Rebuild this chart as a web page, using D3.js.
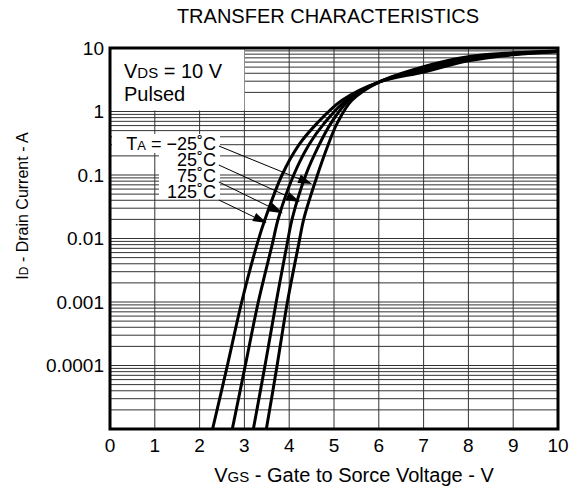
<!DOCTYPE html>
<html>
<head>
<meta charset="utf-8">
<script src="https://cdn.jsdelivr.net/npm/d3@7"></script>
<style>
  html, body { margin: 0; padding: 0; background: #fff; }
  svg { display: block; font-family: 'Liberation Sans', Arial, sans-serif; }
</style>
</head>
<body>
<div id="chart"></div>
<script>
/* Transfer characteristics: ID vs VGS at four ambient temperatures.
   Log y axis (1e-5 .. 10 A), linear x axis (0 .. 10 V).            */

var vgsTicks = [0, 1, 2, 3, 4, 5, 6, 7, 8, 9, 10];
var idTicks = [10, 1, 0.1, 0.01, 0.001, 0.0001];
var idTickLabels = ['10', '1', '0.1', '0.01', '0.001', '0.0001'];

/* [VGS, ID] */
var curveM25 = [[3.49, 1e-5], [3.73, 1e-4], [3.96, 1e-3], [4.21, 0.008], [4.33, 0.021],
  [4.63, 0.1], [4.87, 0.3], [5.07, 0.65], [5.40, 1.5], [6.0, 2.9], [7, 5.1], [8, 7.3], [9, 8.4], [10, 9.0]];
var curve25 = [[3.20, 1e-5], [3.46, 1e-4], [3.71, 1e-3], [3.95, 0.008], [4.07, 0.021],
  [4.37, 0.1], [4.67, 0.3], [4.93, 0.65], [5.33, 1.5], [6.0, 2.9], [7, 4.8], [8, 7.0], [9, 8.2], [10, 8.9]];
var curve75 = [[2.73, 1e-5], [3.02, 1e-4], [3.31, 1e-3], [3.62, 0.008], [3.76, 0.021],
  [4.10, 0.1], [4.44, 0.3], [4.78, 0.65], [5.27, 1.5], [6.0, 2.9], [7, 4.5], [8, 6.6], [9, 8.0], [10, 8.8]];
var curve125 = [[2.29, 1e-5], [2.62, 1e-4], [2.94, 1e-3], [3.28, 0.008], [3.47, 0.021],
  [3.84, 0.1], [4.22, 0.3], [4.62, 0.65], [5.18, 1.5], [6.0, 2.9], [7, 4.2], [8, 6.3], [9, 7.8], [10, 8.7]];

var tempLabels = ['\u221225\u02DAC', '25\u02DAC', '75\u02DAC', '125\u02DAC'];
/* leader arrows: tail near label, tip near curve, in [VGS, ID] */
var arrowTails = [[2.43, 0.286], [2.43, 0.1435], [2.43, 0.0776], [2.43, 0.0404]];
var arrowTips = [[4.51, 0.072], [4.24, 0.0376], [3.86, 0.025], [3.50, 0.0175]];

(function () {
  'use strict';
  var W = 578, H = 488;
  var left = 110, right = 558, top = 48, bottom = 429;

  var svg = d3.select('#chart').append('svg').attr('width', W).attr('height', H);

  var x = d3.scaleLinear().domain([0, 10]).range([left, right]);
  var y = d3.scaleLog().domain([1e-5, 10]).range([bottom, top]);

  /* grid: every log minor line, every volt */
  var minor = [];
  for (var e = -5; e < 1; e++) {
    for (var m = 1; m < 10; m++) { minor.push(m * Math.pow(10, e)); }
  }
  var grid = svg.append('g').attr('stroke', '#333').attr('stroke-width', 1);
  grid.selectAll('line.h').data(minor).enter().append('line')
    .attr('class', 'h')
    .attr('x1', left).attr('x2', right)
    .attr('y1', function (d) { return y(d); }).attr('y2', function (d) { return y(d); });
  grid.selectAll('line.v').data(vgsTicks.slice(1, -1)).enter().append('line')
    .attr('class', 'v')
    .attr('y1', top).attr('y2', bottom)
    .attr('x1', function (d) { return x(d); }).attr('x2', function (d) { return x(d); });

  /* blank corner for the test conditions */
  svg.append('rect')
    .attr('x', x(0)).attr('y', y(10))
    .attr('width', x(3) - x(0)).attr('height', y(1) - y(10) - 1)
    .attr('fill', '#fff');

  /* white patch behind the temperature labels */
  svg.append('rect').attr('x', 112).attr('y', 134).attr('width', 108).attr('height', 19).attr('fill', '#fff');
  svg.append('rect').attr('x', 159).attr('y', 153).attr('width', 61).attr('height', 46).attr('fill', '#fff');

  /* curves */
  var line = d3.line()
    .x(function (d) { return x(d[0]); })
    .y(function (d) { return y(d[1]); })
    .curve(d3.curveCatmullRom.alpha(0.5));
  [curveM25, curve25, curve75, curve125].forEach(function (c) {
    svg.append('path').datum(c)
      .attr('d', line)
      .attr('fill', 'none').attr('stroke', '#000').attr('stroke-width', 3)
      .attr('stroke-linejoin', 'round');
  });

  /* frame */
  svg.append('rect')
    .attr('x', left).attr('y', top)
    .attr('width', right - left).attr('height', bottom - top)
    .attr('fill', 'none').attr('stroke', '#000').attr('stroke-width', 3);

  /* tick labels */
  svg.selectAll('text.xt').data(vgsTicks).enter().append('text')
    .attr('class', 'xt')
    .attr('x', function (d) { return x(d); }).attr('y', 452)
    .attr('text-anchor', 'middle').style('font-size', '19px')
    .text(function (d) { return d; });
  svg.selectAll('text.yt').data(idTicks).enter().append('text')
    .attr('class', 'yt')
    .attr('x', 104).attr('y', function (d) { return y(d); }).attr('dy', '0.36em')
    .attr('text-anchor', 'end').style('font-size', '19px')
    .text(function (d, i) { return idTickLabels[i]; });

  /* title + axis titles (small-caps style subscripts) */
  svg.append('text')
    .attr('x', 328).attr('y', 23).attr('text-anchor', 'middle')
    .style('font-size', '20px').text('TRANSFER CHARACTERISTICS');

  var xl = svg.append('text').attr('x', 354).attr('y', 482).attr('text-anchor', 'middle')
    .style('font-size', '20px');
  xl.append('tspan').text('V');
  xl.append('tspan').style('font-size', '15px').text('GS');
  xl.append('tspan').text(' - Gate to Sorce Voltage - V');

  var yl = svg.append('text')
    .attr('transform', 'translate(28,206) rotate(-90)')
    .attr('text-anchor', 'middle').style('font-size', '16px');
  yl.append('tspan').text('I');
  yl.append('tspan').style('font-size', '12px').text('D');
  yl.append('tspan').text(' - Drain Current - A');

  /* test conditions */
  var c1 = svg.append('text').attr('x', 124).attr('y', 78).style('font-size', '20px');
  c1.append('tspan').text('V');
  c1.append('tspan').style('font-size', '15px').text('DS');
  c1.append('tspan').text(' = 10 V');
  svg.append('text').attr('x', 124).attr('y', 101).style('font-size', '20px').text('Pulsed');

  /* temperature labels */
  var lblY = [150, 166, 182, 198];
  tempLabels.forEach(function (t, i) {
    var tx = svg.append('text').attr('x', 216).attr('y', lblY[i])
      .attr('text-anchor', 'end').style('font-size', '18px');
    if (i === 0) {
      tx.append('tspan').text('T');
      tx.append('tspan').style('font-size', '13px').text('A');
      tx.append('tspan').text(' = ' + t);
    } else {
      tx.text(t);
    }
  });

  /* leader arrows */
  arrowTails.forEach(function (a, i) {
    var x1 = x(a[0]), y1 = y(a[1]);
    var x2 = x(arrowTips[i][0]), y2 = y(arrowTips[i][1]);
    var ang = Math.atan2(y2 - y1, x2 - x1);
    var len = 14, hw = 4.5;
    var bx = x2 - len * Math.cos(ang), by = y2 - len * Math.sin(ang);
    svg.append('line')
      .attr('x1', x1).attr('y1', y1).attr('x2', bx).attr('y2', by)
      .attr('stroke', '#000').attr('stroke-width', 1);
    var pts = [[x2, y2],
      [bx + hw * Math.sin(ang), by - hw * Math.cos(ang)],
      [bx - hw * Math.sin(ang), by + hw * Math.cos(ang)]];
    svg.append('polygon')
      .attr('points', pts.map(function (p) { return p.join(','); }).join(' '))
      .attr('fill', '#000');
  });
})();
</script>
</body>
</html>
